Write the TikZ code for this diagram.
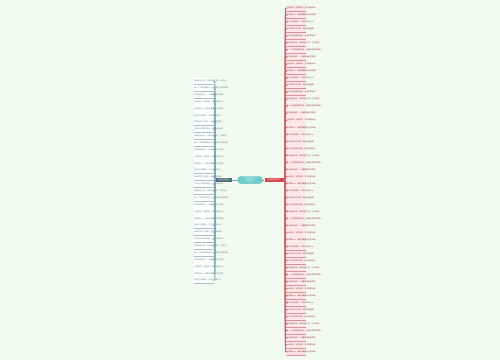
\documentclass[tikz,border=0pt]{standalone}
\usepackage{fontspec}
\setmainfont{Noto Sans CJK SC}
\usepackage{xcolor}
\definecolor{pale-bg}{HTML}{F1F9F1}
\definecolor{root-teal}{HTML}{6CCFCF}
\definecolor{root-edge}{HTML}{4FB3B5}
\definecolor{slate}{HTML}{52707F}
\definecolor{slate-line}{HTML}{8AA3B2}
\definecolor{leaf-white}{HTML}{FDFEFE}
\definecolor{berry}{HTML}{D4434F}
\definecolor{berry-line}{HTML}{C9626B}
\definecolor{leaf-pink}{HTML}{FCE8EA}
\usetikzlibrary{positioning}
\newcommand\tinyfont{\fontsize{1.8pt}{2.3pt}\selectfont}
\newcommand\leafphrase[1]{\ifcase#1
  生活不止眼前的苟且，还有诗和远方。\or
  愿你走出半生，归来仍是少年，心中有光。\or
  每一个不曾起舞的日子，都是对生命的辜负。\or
  时间会告诉你，一切都是最好的安排。\or
  心若向阳，无畏悲伤，岁月温柔以待。\or
  世界那么大，我想去看看远方的风景。\or
  星光不问赶路人，岁月不负有心人。\or
  所有的努力与坚持，终将会有回报。\fi}
\tikzset{rootbox/.style = {draw=root-edge, fill=root-teal, rounded corners=3pt, align=center, text=white,
  minimum width=24pt, minimum height=7pt, inner sep=0.6pt, font=\tinyfont, text width=20pt}}
\tikzset{branchL/.style = {fill=slate, align=center, text=white, minimum width=17pt, minimum height=4pt,
  inner sep=0.4pt, font=\tinyfont}}
\tikzset{branchR/.style = {fill=berry, align=center, text=white, minimum width=19pt, minimum height=4pt,
  inner sep=0.4pt, font=\tinyfont}}
\tikzset{leafL/.style = {fill=leaf-white, align=left, text=slate!90, text width=19.4pt, minimum height=6.2pt,
  inner sep=0.5pt, font=\tinyfont}}
\tikzset{leafR/.style = {fill=leaf-pink, align=left, text=berry!70!black, text width=18.4pt, minimum height=6.4pt,
  inner sep=0.5pt, font=\tinyfont}}
\tikzset{linkL/.style = {slate-line, line width=1pt, rounded corners=1pt}}
\tikzset{linkR/.style = {berry-line, line width=1pt, rounded corners=1pt}}

\begin{document}
\begin{tikzpicture}[x=1pt, y=-1pt]
\useasboundingbox[fill=pale-bg] (0,0) rectangle (500,360);

\node[rootbox] (root) at (250,180) {关于生活的\\经典句子};
\node[branchL] (left) at (223.5,180) {生活句子摘抄};
\node[branchR] (right) at (274,180) {生活的经典句子};
\coordinate (jL) at (214.8,180);
\coordinate (jR) at (285.4,180);

\draw[linkL] (root.west) -- (left.east);
\draw[linkR] (root.east) -- (right.west);

% left leaves
\foreach \i in {1,...,30} {
  \pgfmathtruncatemacro\k{mod(\i,8)}
  \node[leafL] (L\i) at (204,{81+(\i-1)*6.87}) {\leafphrase{\k}};
  \draw[slate-line!70, line width=0.3pt] (L\i.south west) -- (L\i.south east);
  \draw[linkL] (left.west) -- (jL) |- (L\i.east);
}

% right leaves
\foreach \i in {1,...,50} {
  \pgfmathtruncatemacro\k{mod(\i+3,8)}
  \node[leafR] (R\i) at (295.9,{8+(\i-1)*7.02}) {\leafphrase{\k}};
  \draw[berry-line!70, line width=0.3pt] (R\i.south west) -- (R\i.south east);
  \draw[linkR] (right.east) -- (jR) |- (R\i.west);
}

\end{tikzpicture}
\end{document}
